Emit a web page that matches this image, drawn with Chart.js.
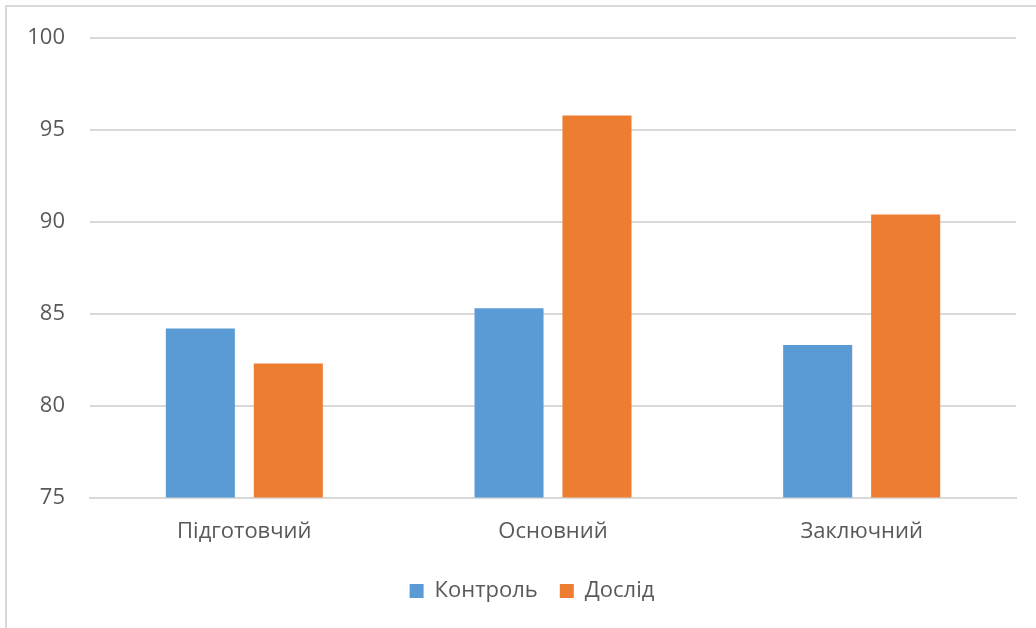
<!DOCTYPE html>
<html>
<head>
<meta charset="utf-8">
<script src="https://cdn.jsdelivr.net/npm/chart.js@4"></script>
<style>
  html, body { margin: 0; padding: 0; background: #fff; overflow: hidden; }
  #frame {
    position: absolute; left: 5px; top: 5px;
    width: 1200px; height: 800px;
    border: 2px solid #d9d9d9;
  }
  #wrap { position: absolute; left: 0; top: 0; width: 1036px; height: 628px; }
</style>
</head>
<body>
<div id="frame"></div>
<div id="wrap"><canvas id="barchart" width="1036" height="628"></canvas></div>
<script>
  // Етапи та результати груп
  const stages = ["Підготовчий", "Основний", "Заключний"];
  const control = [84.2, 85.3, 83.3];
  const experiment = [82.3, 95.8, 90.4];
  const yTicks = [75, 80, 85, 90, 95, 100];

  const textColor = '#595959';
  const fontFamily = '"Open Sans", "Noto Sans", sans-serif';

  // зсуваємо легенду трохи праворуч
  const legendShift = {
    id: 'legendShift',
    afterLayout(chart) {
      chart.legend.left += 24;
      chart.legend.right += 24;
    }
  };

  const ctx = document.getElementById('barchart').getContext('2d');

  const barchart = new Chart(ctx, {
    type: 'bar',
    plugins: [legendShift],
    data: {
      labels: stages,
      datasets: [
        {
          label: 'Контроль',
          data: control,
          backgroundColor: '#5b9bd5',
          categoryPercentage: 0.57,
          barPercentage: 0.785
        },
        {
          label: 'Дослід',
          data: experiment,
          backgroundColor: '#ed7d31',
          categoryPercentage: 0.57,
          barPercentage: 0.785
        }
      ]
    },
    options: {
      responsive: false,
      animation: false,
      layout: {
        padding: { left: 0, right: 20, top: 38, bottom: 16 }
      },
      scales: {
        x: {
          grid: { display: false },
          border: { display: true, color: '#d9d9d9', width: 2 },
          ticks: {
            color: textColor,
            font: { family: fontFamily, size: 22 },
            padding: 13
          }
        },
        y: {
          min: yTicks[0],
          max: yTicks[yTicks.length - 1],
          afterBuildTicks: function (scale) {
            scale.ticks = yTicks.map(v => ({ value: v }));
          },
          afterFit: function (scale) {
            scale.width = 90;
          },
          border: { display: false },
          grid: {
            color: '#d9d9d9',
            lineWidth: 2,
            drawTicks: false
          },
          ticks: {
            color: textColor,
            font: { family: fontFamily, size: 22 },
            padding: 25
          }
        }
      },
      plugins: {
        legend: {
          position: 'bottom',
          labels: {
            color: textColor,
            font: { family: fontFamily, size: 22 },
            boxWidth: 14,
            boxHeight: 14,
            padding: 22
          }
        },
        tooltip: { enabled: false }
      }
    }
  });
</script>
</body>
</html>
